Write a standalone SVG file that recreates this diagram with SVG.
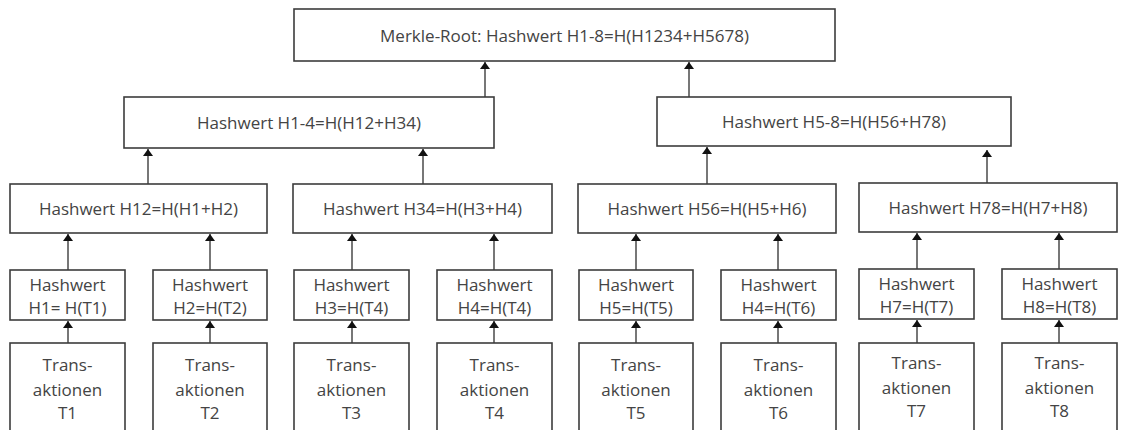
<svg xmlns="http://www.w3.org/2000/svg" width="1121" height="430" viewBox="0 0 1121 430">
<style>
.box{fill:#fff;stroke:#3c3c3c;stroke-width:1.6}
.t{font-family:"Open Sans","Noto Sans","Liberation Sans",sans-serif;font-size:17px;fill:#444;text-anchor:middle}
.c{stroke:#4a4a4a;stroke-width:1.5;fill:none;marker-end:url(#ah)}
</style>
<defs>
<marker id="ah" viewBox="0 0 7 10" refX="7" refY="5" markerWidth="7" markerHeight="10" markerUnits="userSpaceOnUse" orient="auto">
<path d="M0,0 L7,5 L0,10 z" fill="#111"/>
</marker>
</defs>
<rect width="1121" height="430" fill="#fff"/>
<g id="connectors">
<line class="c" x1="485" y1="97" x2="485" y2="62"/>
<line class="c" x1="689" y1="97" x2="689" y2="62"/>
<line class="c" x1="148" y1="184" x2="148" y2="149"/>
<line class="c" x1="423" y1="184" x2="423" y2="149"/>
<line class="c" x1="707" y1="184" x2="707" y2="147"/>
<line class="c" x1="987" y1="183" x2="987" y2="150"/>
<line class="c" x1="68" y1="270" x2="68" y2="234"/>
<line class="c" x1="210" y1="270" x2="210" y2="234"/>
<line class="c" x1="352" y1="270" x2="352" y2="234"/>
<line class="c" x1="494" y1="270" x2="494" y2="234"/>
<line class="c" x1="636" y1="270" x2="636" y2="234"/>
<line class="c" x1="778" y1="270" x2="778" y2="234"/>
<line class="c" x1="917" y1="269" x2="917" y2="233"/>
<line class="c" x1="1059" y1="269" x2="1059" y2="233"/>
<line class="c" x1="68" y1="343" x2="68" y2="321"/>
<line class="c" x1="210" y1="343" x2="210" y2="321"/>
<line class="c" x1="352" y1="343" x2="352" y2="321"/>
<line class="c" x1="494" y1="343" x2="494" y2="321"/>
<line class="c" x1="636" y1="343" x2="636" y2="321"/>
<line class="c" x1="778" y1="343" x2="778" y2="321"/>
<line class="c" x1="917" y1="343" x2="917" y2="320"/>
<line class="c" x1="1059" y1="343" x2="1059" y2="320"/>
</g>
<g id="root"><rect class="box" x="294" y="9" width="541" height="52"/><text class="t" x="564.5" y="42">Merkle-Root: Hashwert H1-8=H(H1234+H5678)</text></g>
<g id="h14"><rect class="box" x="124" y="97" width="370" height="51"/><text class="t" x="309" y="129">Hashwert H1-4=H(H12+H34)</text></g>
<g id="h58"><rect class="box" x="657" y="97" width="354" height="49"/><text class="t" x="834" y="128">Hashwert H5-8=H(H56+H78)</text></g>
<g id="h12"><rect class="box" x="10" y="184" width="257" height="49"/><text class="t" x="138.5" y="215">Hashwert H12=H(H1+H2)</text></g>
<g id="h34"><rect class="box" x="293" y="184" width="259" height="49"/><text class="t" x="422.5" y="215">Hashwert H34=H(H3+H4)</text></g>
<g id="h56"><rect class="box" x="578" y="184" width="258" height="49"/><text class="t" x="707" y="215">Hashwert H56=H(H5+H6)</text></g>
<g id="h78"><rect class="box" x="859" y="183" width="258" height="49"/><text class="t" x="988" y="214">Hashwert H78=H(H7+H8)</text></g>
<g id="h1"><rect class="box" x="10" y="270" width="115" height="50"/><text class="t" x="67.5" y="291">Hashwert</text><text class="t" x="67.5" y="314">H1= H(T1)</text></g>
<g id="h2"><rect class="box" x="153" y="270" width="114" height="50"/><text class="t" x="210" y="291">Hashwert</text><text class="t" x="210" y="314">H2=H(T2)</text></g>
<g id="h3"><rect class="box" x="294" y="270" width="115" height="50"/><text class="t" x="351.5" y="291">Hashwert</text><text class="t" x="351.5" y="314">H3=H(T4)</text></g>
<g id="h4"><rect class="box" x="437" y="270" width="115" height="50"/><text class="t" x="494.5" y="291">Hashwert</text><text class="t" x="494.5" y="314">H4=H(T4)</text></g>
<g id="h5"><rect class="box" x="579" y="270" width="114" height="50"/><text class="t" x="636" y="291">Hashwert</text><text class="t" x="636" y="314">H5=H(T5)</text></g>
<g id="h6"><rect class="box" x="721" y="270" width="115" height="50"/><text class="t" x="778.5" y="291">Hashwert</text><text class="t" x="778.5" y="314">H4=H(T6)</text></g>
<g id="h7"><rect class="box" x="859" y="269" width="115" height="50"/><text class="t" x="916.5" y="290">Hashwert</text><text class="t" x="916.5" y="313">H7=H(T7)</text></g>
<g id="h8"><rect class="box" x="1002" y="269" width="115" height="50"/><text class="t" x="1059.5" y="290">Hashwert</text><text class="t" x="1059.5" y="313">H8=H(T8)</text></g>
<g id="t1"><rect class="box" x="10" y="343" width="115" height="100"/><text class="t" x="67.5" y="371">Trans-</text><text class="t" x="67.5" y="396">aktionen</text><text class="t" x="67.5" y="419">T1</text></g>
<g id="t2"><rect class="box" x="153" y="343" width="114" height="100"/><text class="t" x="210" y="371">Trans-</text><text class="t" x="210" y="396">aktionen</text><text class="t" x="210" y="419">T2</text></g>
<g id="t3"><rect class="box" x="294" y="343" width="115" height="100"/><text class="t" x="351.5" y="371">Trans-</text><text class="t" x="351.5" y="396">aktionen</text><text class="t" x="351.5" y="419">T3</text></g>
<g id="t4"><rect class="box" x="437" y="343" width="115" height="100"/><text class="t" x="494.5" y="371">Trans-</text><text class="t" x="494.5" y="396">aktionen</text><text class="t" x="494.5" y="419">T4</text></g>
<g id="t5"><rect class="box" x="579" y="343" width="114" height="100"/><text class="t" x="636" y="371">Trans-</text><text class="t" x="636" y="396">aktionen</text><text class="t" x="636" y="419">T5</text></g>
<g id="t6"><rect class="box" x="721" y="343" width="115" height="100"/><text class="t" x="778.5" y="371">Trans-</text><text class="t" x="778.5" y="396">aktionen</text><text class="t" x="778.5" y="419">T6</text></g>
<g id="t7"><rect class="box" x="859" y="343" width="115" height="100"/><text class="t" x="916.5" y="369">Trans-</text><text class="t" x="916.5" y="394">aktionen</text><text class="t" x="916.5" y="417">T7</text></g>
<g id="t8"><rect class="box" x="1002" y="343" width="115" height="100"/><text class="t" x="1059.5" y="369">Trans-</text><text class="t" x="1059.5" y="394">aktionen</text><text class="t" x="1059.5" y="417">T8</text></g>
</svg>
